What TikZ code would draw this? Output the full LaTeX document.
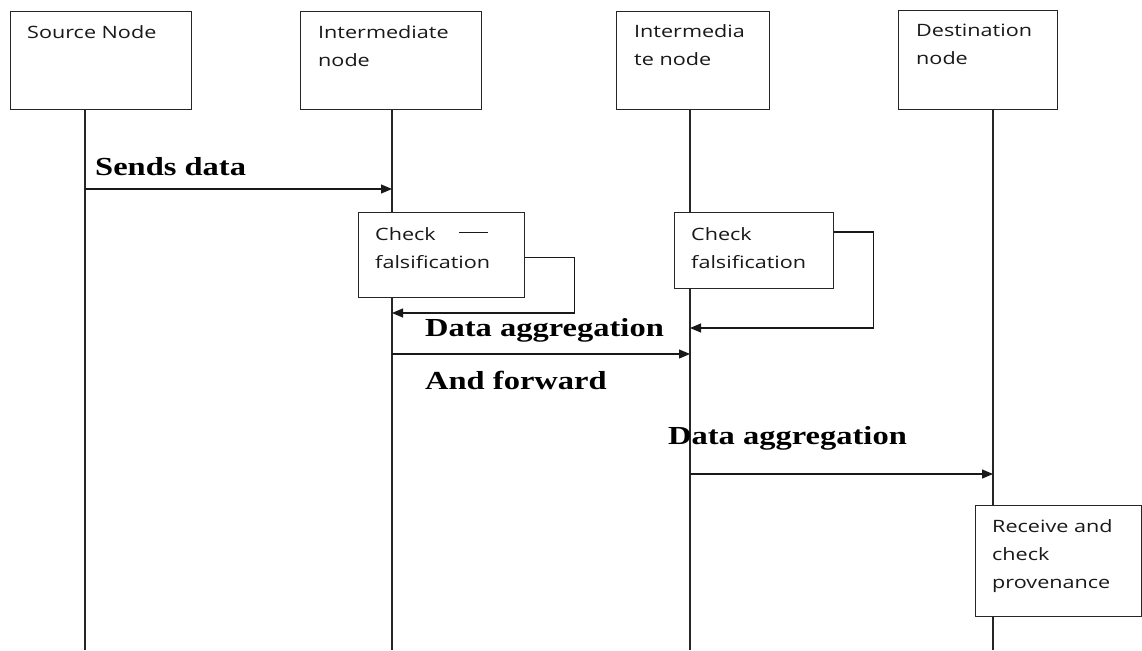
\documentclass[tikz,border=0pt]{standalone}
\usepackage{graphicx}
\usepackage{fontspec}
\setmainfont{Liberation Serif}
\newfontfamily\boxfont{Open Sans}
\usetikzlibrary{arrows.meta}

% horizontally widened text
\newcommand{\widesans}[1]{\scalebox{1.27}[1]{#1}}
\newcommand{\wideserif}[1]{\scalebox{1.25}[1]{#1}}

\tikzset{
  box/.style={draw=black!85, line width=1.3pt, fill=white, rectangle, inner sep=0pt, anchor=north west},
  % anchored at the baseline of the last line
  boxtext/.style={anchor=base west, inner sep=0pt, align=left, text=black!90,
    font=\boxfont\fontsize{17}{28}\selectfont},
  msglabel/.style={anchor=base west, inner sep=0pt, font=\bfseries\fontsize{26}{30}\selectfont},
  life/.style={draw=black!85, line width=1.3pt},
  msg/.style={draw=black!90, line width=1.2pt, -{Triangle[length=11pt,width=9pt]}},
}

\begin{document}
\begin{tikzpicture}[x=1pt,y=-1pt]
  \useasboundingbox (0,0) rectangle (1142,650);

  % lifeline bottoms
  \coordinate (L1) at (85,650);
  \coordinate (L2) at (392,650);
  \coordinate (L3) at (690,650);
  \coordinate (L4) at (993,650);

  % head boxes
  \node[box, minimum width=181pt, minimum height=98pt] (src) at (10,11) {};
  \node[box, minimum width=181pt, minimum height=98pt] (int1) at (300,11) {};
  \node[box, minimum width=153pt, minimum height=98pt] (int2) at (616,11) {};
  \node[box, minimum width=159pt, minimum height=99pt] (dst) at (898,10) {};

  \node[boxtext] (srcT) at (27,39) {\widesans{Source Node}};
  \node[boxtext] (int1T) at (318,67) {\widesans{Intermediate}\\\widesans{node}};
  \node[boxtext] (int2T) at (634,66) {\widesans{Intermedia}\\\widesans{te node}};
  \node[boxtext] (dstT) at (916,65) {\widesans{Destination}\\\widesans{node}};

  % activation boxes
  \node[box, minimum width=166pt, minimum height=85pt] (chk1) at (358,212) {};
  \node[box, minimum width=159pt, minimum height=76pt] (chk2) at (674,212) {};
  \node[box, minimum width=166pt, minimum height=111pt] (rcv) at (975,505) {};

  \node[boxtext] (chk1T) at (375,268) {\widesans{Check}\\\widesans{falsification}};
  \node[boxtext] (chk2T) at (691,268) {\widesans{Check}\\\widesans{falsification}};
  \node[boxtext] (rcvT) at (992,588) {\widesans{Receive and}\\\widesans{check}\\\widesans{provenance}};
  \draw[black!90, line width=1pt] (459,232) -- (488,232);

  % lifelines
  \draw[life] (src.south -| L1) -- (L1);
  \draw[life] (int1.south -| L2) -- (chk1.north -| L2);
  \draw[life] (chk1.south -| L2) -- (L2);
  \draw[life] (int2.south -| L3) -- (chk2.north -| L3);
  \draw[life] (chk2.south -| L3) -- (L3);
  \draw[life] (dst.south -| L4) -- (rcv.north -| L4);
  \draw[life] (rcv.south -| L4) -- (L4);

  % message heights
  \coordinate (m1) at (0,189);
  \coordinate (r1) at (0,313);
  \coordinate (r2) at (0,328);
  \coordinate (m2) at (0,354);
  \coordinate (m3) at (0,474);

  % messages
  \draw[msg] (L1 |- m1) -- (L2 |- m1);
  \draw[msg] ([yshift=-2pt]chk1.east) -- ++(49,0) |- (L2 |- r1);
  \draw[msg] ([yshift=-20pt]chk2.north east) -- ++(39,0) |- (L3 |- r2);
  \draw[msg] (L2 |- m2) -- (L3 |- m2);
  \draw[msg] (L3 |- m3) -- (L4 |- m3);

  % message labels
  \node[msglabel] (lab1) at (95,175) {\wideserif{Sends data}};
  \node[msglabel] (lab2) at (425,336) {\wideserif{Data aggregation}};
  \node[msglabel] (lab3) at (425,389) {\wideserif{And forward}};
  \node[msglabel] (lab4) at (668,444) {\wideserif{Data aggregation}};
\end{tikzpicture}
\end{document}
